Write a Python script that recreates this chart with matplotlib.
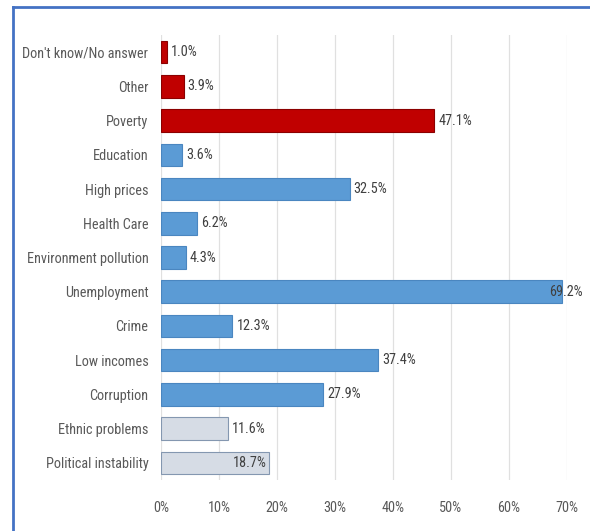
import matplotlib.pyplot as plt
from matplotlib.lines import Line2D

categories = [
    "Don't know/No answer", "Other", "Poverty", "Education", "High prices",
    "Health Care", "Environment pollution", "Unemployment", "Crime",
    "Low incomes", "Corruption", "Ethnic problems", "Political instability",
]
values = [1.0, 3.9, 47.1, 3.6, 32.5, 6.2, 4.3, 69.2, 12.3, 37.4, 27.9, 11.6, 18.7]
groups = ["red", "red", "red", "blue", "blue", "blue", "blue", "blue", "blue",
          "blue", "blue", "grey", "grey"]
xticks = [0, 10, 20, 30, 40, 50, 60, 70]

fill = {"red": "#C00000", "blue": "#5B9BD5", "grey": "#D6DCE5"}
edge = {"red": "#8B0000", "blue": "#4A86C0", "grey": "#8497B0"}

plt.rcParams["font.family"] = ["Roboto Condensed", "Carlito", "DejaVu Sans"]
FS = 10.3

fig = plt.figure(figsize=(5.9, 5.31), dpi=100)
ax = fig.add_axes([161 / 590, 1 - 480 / 531, 406 / 590, 445 / 531])

ypos = list(range(len(categories)))
ax.barh(ypos, values, height=0.66,
        color=[fill[g] for g in groups],
        edgecolor=[edge[g] for g in groups], linewidth=0.8, zorder=3)

for y, v in zip(ypos, values):
    label = f"{v:.1f}%"
    if v > 65:
        ax.text(v - 2.2, y, label, ha="left", va="center", fontsize=FS, color="#404040", zorder=4)
    elif v == 18.7:
        ax.text(v - 0.4, y, label, ha="right", va="center", fontsize=FS, color="#404040", zorder=4)
    else:
        ax.text(v + 0.7, y, label, ha="left", va="center", fontsize=FS, color="#404040", zorder=4)

ax.set_xlim(0, 70)
ax.set_ylim(len(categories) - 0.5, -0.5)
ax.set_xticks(xticks)
ax.set_xticklabels([f"{t}%" for t in xticks])
ax.set_yticks(ypos)
ax.set_yticklabels(categories)
ax.tick_params(axis="both", length=0, labelsize=FS, labelcolor="#595959")
ax.tick_params(axis="x", pad=15)
ax.tick_params(axis="y", pad=9)
ax.grid(axis="x", color="#E0E0E0", linewidth=0.9, zorder=0)
for s in ax.spines.values():
    s.set_visible(False)

# blue frame on the left and top
fig.add_artist(Line2D([13 / 590, 13 / 590], [0, 1 - 7 / 531], color="#4472C4", linewidth=2, transform=fig.transFigure))
fig.add_artist(Line2D([13 / 590, 1], [1 - 7 / 531, 1 - 7 / 531], color="#4472C4", linewidth=2, transform=fig.transFigure))

fig.savefig("out.png", dpi=100)
